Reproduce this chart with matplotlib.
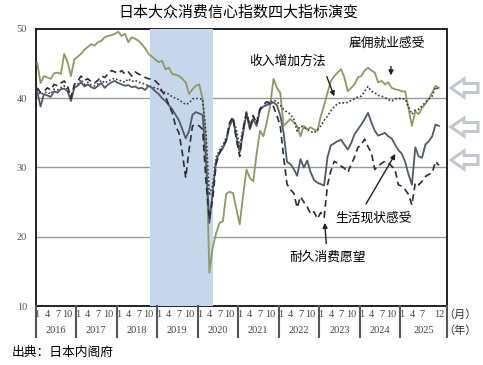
import numpy as np
import matplotlib
matplotlib.use('Agg')
import matplotlib.pyplot as plt
from matplotlib.patches import Polygon
import matplotlib.transforms as mtransforms

plt.rcParams['font.family'] = ['Noto Sans CJK SC', 'DejaVu Sans']

# monthly values, Jan 2016 .. Dec 2025
employment = [45.1, 42.2, 43.2, 43.0, 42.8, 43.6, 43.7, 43.5, 46.4, 45.2, 43.2, 45.6,
              46.0, 46.4, 47.0, 47.4, 47.8, 47.6, 48.1, 48.3, 48.8, 49.0, 49.1, 49.3,
              49.6, 49.0, 49.3, 48.1, 48.8, 48.6, 48.3, 47.8, 47.2, 46.4, 46.0, 45.6,
              45.2, 45.4, 44.2, 44.4, 43.5, 43.4, 43.2, 42.8, 42.3, 40.6, 41.3, 41.8,
              42.0, 39.9, 34.0, 14.8, 18.5, 20.5, 22.0, 22.2, 26.2, 26.5, 26.3, 24.0,
              21.8, 26.0, 29.7, 28.5, 28.0, 32.0, 35.3, 34.5, 36.5, 38.9, 42.8, 41.5,
              40.8, 36.0, 36.5, 37.0, 36.5, 36.0, 34.5, 36.0, 35.5, 35.8, 35.5, 35.3,
              37.4, 39.0, 40.8, 42.5, 43.2, 43.7, 44.2, 43.0, 41.0, 41.5, 42.0, 43.0,
              43.2, 44.0, 44.4, 44.0, 43.7, 42.3, 42.5, 42.0, 42.3, 41.5, 41.3, 41.2,
              41.0, 41.0, 38.5, 36.0, 38.1, 37.7, 38.6, 39.2, 39.9, 40.8, 41.8, 41.5]

income = [41.3, 40.5, 40.8, 40.9, 40.6, 41.3, 41.2, 41.5, 41.8, 41.3, 40.0, 41.6,
          42.0, 42.7, 42.0, 42.3, 41.9, 41.8, 42.1, 42.6, 42.2, 42.5, 42.7, 42.9,
          42.6, 42.5, 42.3, 42.8, 42.4, 42.6, 42.3, 42.2, 42.0, 41.8, 41.6, 41.5,
          41.3, 41.0, 40.8, 40.6, 40.2, 40.0, 39.8, 39.4, 39.1, 39.3, 39.9, 40.0,
          39.9, 39.9, 35.0, 26.0, 27.5, 31.5, 32.5, 33.2, 34.3, 36.3, 37.0, 35.5,
          33.0, 35.8, 38.0, 36.2, 37.2, 36.7, 38.5, 38.8, 39.1, 39.4, 39.7, 39.5,
          39.0, 38.4, 38.0, 37.7, 37.0, 35.3, 36.0, 35.8, 35.5, 35.2, 35.0, 35.4,
          36.0, 36.8, 37.4, 38.2, 38.8, 39.2, 39.4, 39.3, 39.4, 39.7, 39.9, 40.2,
          40.3, 41.0, 41.7, 41.0, 40.8, 40.4, 40.3, 40.1, 39.8, 39.6, 39.9, 40.0,
          39.9, 39.9, 38.7, 37.7, 38.3, 38.4, 38.9, 39.4, 39.9, 40.3, 41.6, 41.2]

living = [41.0, 38.8, 40.6, 40.4, 40.2, 41.0, 40.8, 41.3, 41.4, 41.0, 39.6, 41.5,
          41.8, 42.3, 41.7, 42.0, 41.6, 41.4, 41.8, 42.2, 41.5, 42.0, 42.3, 42.5,
          42.2, 42.0, 41.8, 41.9, 41.6, 41.7, 41.4, 41.5, 41.2, 41.8, 41.5, 41.0,
          40.6, 40.0, 39.6, 39.0, 38.4, 37.6, 36.8, 35.5, 34.2, 35.3, 37.6, 38.0,
          37.8, 37.6, 31.0, 22.0, 26.5, 31.0, 32.2, 32.8, 33.8, 36.0, 37.0, 34.5,
          32.2, 35.0, 37.8, 35.5, 37.0, 36.0, 38.3, 38.8, 39.0, 39.2, 39.4, 39.0,
          37.5, 35.0, 30.8, 30.5, 29.8, 28.8, 31.2, 30.0, 31.0, 29.3, 28.2, 27.8,
          27.6, 27.4, 31.5, 33.2, 33.5, 33.8, 34.0, 33.3, 32.6, 33.5, 34.8, 35.5,
          36.2, 37.0, 37.9, 36.5, 35.3, 34.6, 34.8, 35.0, 34.5, 34.2, 33.3, 32.5,
          32.0, 30.8, 29.0, 27.5, 32.9, 31.6, 31.4, 33.3, 33.8, 34.5, 36.2, 36.0]

durables = [41.5, 40.8, 41.0, 41.5, 41.2, 42.0, 41.8, 42.2, 42.5, 41.8, 40.0, 42.0,
            42.5, 43.2, 42.6, 42.8, 42.4, 42.2, 42.6, 43.2, 43.0, 43.5, 44.0, 43.8,
            43.6, 44.0, 43.5, 43.8, 43.2, 43.8, 43.5, 43.3, 43.0, 42.8, 42.8, 42.5,
            42.0, 41.0, 40.3, 39.0, 37.9, 36.0, 35.0, 32.1, 28.5, 32.6, 36.0, 36.2,
            36.0, 35.5, 28.0, 22.5, 25.5, 30.5, 32.0, 33.0, 34.0, 36.5, 37.3, 34.0,
            31.6, 35.5, 38.0, 35.8, 37.5, 36.3, 38.5, 39.0, 39.5, 39.3, 38.8, 37.5,
            36.0, 31.5, 27.6, 26.8, 26.3, 24.2, 25.8, 25.0, 24.3, 23.3, 23.6, 22.6,
            23.5, 22.8, 27.5, 29.5, 30.9, 30.6, 30.2, 29.9, 29.3, 30.4, 31.5, 32.9,
            33.3, 34.1, 33.0, 32.1, 29.7, 30.2, 30.6, 30.9, 30.7, 30.2, 29.7, 27.5,
            27.3, 26.8, 26.1, 24.6, 27.8, 27.5, 28.0, 28.7, 29.0, 29.2, 30.9, 30.3]

years = [2016, 2017, 2018, 2019, 2020, 2021, 2022, 2023, 2024, 2025]
months = np.arange(len(employment))

fig = plt.figure(figsize=(4.83, 3.65), dpi=100)
ax = fig.add_axes([0.0735, 0.1616, 0.852, 0.759])
xmax = 121.4
ax.set_xlim(-0.5, xmax)
ax.set_ylim(10, 50)

# shaded period (Oct 2018 - Apr 2020)
ax.axvspan(33.4, 52.1, color='#c6d7ec', zorder=3, lw=0)

for g in [20, 30, 40]:
    ax.axhline(g, color='#9a9a9a', lw=1, zorder=1)

ax.plot(months, employment, color='#8b9b62', lw=1.3, zorder=5)
ax.plot(months, income, color='#3a3a40', lw=1.2, ls=(0, (1, 1.3)), zorder=5)
ax.plot(months, living, color='#4d5b6b', lw=1.3, zorder=5)
ax.plot(months, durables, color='#2c2c38', lw=1.2, ls=(0, (4, 2.5)), zorder=5)

for s in ax.spines.values():
    s.set_color('#222222')
    s.set_linewidth(1.4)

# y axis
ax.set_yticks([10, 20, 30, 40, 50])
ax.set_yticklabels(['10', '20', '30', '40', '50'], family='Liberation Serif',
                   fontsize=7.5, color='#555555')
ax.tick_params(axis='y', length=0, pad=6)

# x axis: months
xt, xl = [], []
for k, yr in enumerate(years):
    ms = [1, 4, 7, 10] if yr != 2025 else [1, 4, 7, 12]
    for m in ms:
        xt.append(k * 12 + m - 1)
        xl.append(str(m))
ax.set_xticks(xt)
ax.set_xticklabels(xl, family='Liberation Serif', fontsize=7.5, color='#444444')
ax.tick_params(axis='x', length=0, pad=3)

trans = mtransforms.blended_transform_factory(ax.transData, ax.transAxes)
for k in range(len(years) + 1):
    xs = k * 12 - 0.5 if k < len(years) else xmax
    ax.plot([xs, xs], [0, -0.112], transform=trans, color='#555555', lw=1.5,
            clip_on=False, zorder=6)
for k, yr in enumerate(years):
    right = k * 12 + 11.5 if k < len(years) - 1 else xmax
    ax.text((k * 12 - 0.5 + right) / 2, -0.09, str(yr), transform=trans,
            ha='center', va='center', family='Liberation Serif', fontsize=7.5,
            color='#444444')

fig.text(0.952, 0.137, '（月）', ha='center', va='center', fontsize=8, color='#333333')
fig.text(0.952, 0.093, '（年）', ha='center', va='center', fontsize=8, color='#333333')

# series labels
ax.text(392 / 483 * 0 + 103.5, 47.9, '雇佣就业感受', ha='center', va='center', fontsize=9.2, zorder=7)
ax.annotate('', xy=(104.8, 42.9), xytext=(104.8, 45.0),
            arrowprops=dict(arrowstyle='-|>', color='#222222', lw=1, mutation_scale=7), zorder=7)
ax.text(74.0, 45.4, '收入增加方法', ha='center', va='center', fontsize=9.2, zorder=7)
ax.annotate('', xy=(88.3, 39.9), xytext=(85.5, 43.5),
            arrowprops=dict(arrowstyle='-|>', color='#222222', lw=1, mutation_scale=7), zorder=7)
ax.text(99.5, 22.7, '生活现状感受', ha='center', va='center', fontsize=9.2, zorder=7)
ax.annotate('', xy=(106.5, 32.3), xytext=(97.0, 24.4),
            arrowprops=dict(arrowstyle='-|>', color='#222222', lw=1, mutation_scale=7), zorder=7)
ax.text(86.0, 17.0, '耐久消费愿望', ha='center', va='center', fontsize=9.2, zorder=7)
ax.annotate('', xy=(85.1, 22.4), xytext=(85.7, 18.6),
            arrowprops=dict(arrowstyle='-|>', color='#222222', lw=1, mutation_scale=7), zorder=7)

# hollow arrows on the right
W, H = 483.0, 365.0
for yc in [88, 127, 160]:
    pts = [(451, yc), (464, yc - 9), (464, yc - 4.5), (478, yc - 4.5),
           (478, yc + 4.5), (464, yc + 4.5), (464, yc + 9)]
    pts = [(px / W, 1 - py / H) for px, py in pts]
    fig.patches.append(Polygon(pts, closed=True, transform=fig.transFigure,
                               facecolor='white', edgecolor='#c3c7d0', lw=2.2))

fig.text(0.493, 0.965, '日本大众消费信心指数四大指标演变', ha='center', va='center', fontsize=10.8)
fig.text(0.025, 0.035, '出典：日本内阁府', ha='left', va='center', fontsize=9.2)

fig.savefig('out.png', dpi=100)
